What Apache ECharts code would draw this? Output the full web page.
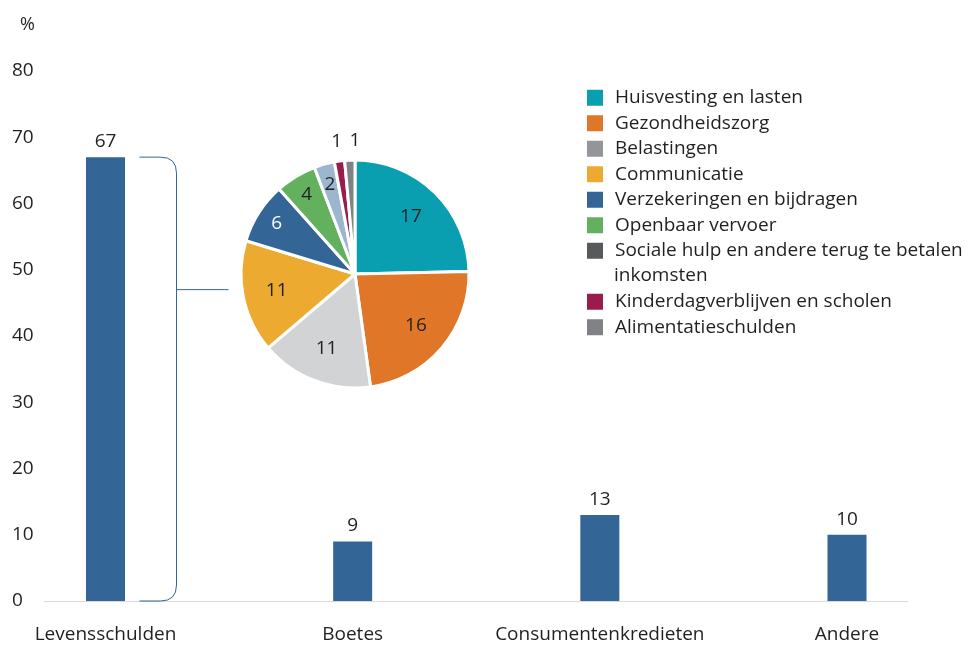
<!DOCTYPE html>
<html>
<head>
<meta charset="utf-8">
<script src="https://cdn.jsdelivr.net/npm/echarts@6/dist/echarts.min.js"></script>
<style>
  html, body { margin: 0; padding: 0; background: #fff; }
  #chart { width: 976px; height: 646px; }
</style>
</head>
<body>
<div id="chart"></div>
<script>
// staafdiagram
const categories = ['Levensschulden', 'Boetes', 'Consumentenkredieten', 'Andere'];
const barValues = [67, 9, 13, 10];

// taart: uitsplitsing levensschulden
const pieNames = [
  'Huisvesting en lasten',
  'Gezondheidszorg',
  'Belastingen',
  'Communicatie',
  'Verzekeringen en bijdragen',
  'Openbaar vervoer',
  'Sociale hulp en andere terug te betalen inkomsten',
  'Kinderdagverblijven en scholen',
  'Alimentatieschulden'
];
const pieValues = [17, 16, 11, 11, 6, 4, 2, 1, 1];

const yMin = 0, yMax = 80, yStep = 10;

const FONT = 'Open Sans';
const FS = 19;
const TEXT = '#231f20';
const BAR = '#336596';
const PIE_CENTER = [355, 274];
const PIE_R = 114;
// kleuren in de taart
const pieColors = ['#0a9fb0', '#e07628', '#d1d3d4', '#edaa30', '#336596', '#63b05e', '#9cb6d0', '#9b1b4d', '#808285'];
// kleuren in de legende (wijken af voor twee items)
const legendColors = ['#0a9fb0', '#e07628', '#939598', '#edaa30', '#336596', '#63b05e', '#58595b', '#9b1b4d', '#808285'];

const chart = echarts.init(document.getElementById('chart'));

// accolade van de eerste staaf naar de taart
function renderBracket(params, api) {
  const top = api.coord([api.value(0), api.value(1)]);
  const bottom = api.coord([api.value(0), 0]);
  const mid = api.coord([api.value(0), 47]);
  const x1 = top[0] + 34;
  const xv = top[0] + 71;
  const r = 16;
  const path =
    'M' + x1 + ',' + top[1] +
    ' L' + (xv - r) + ',' + top[1] +
    ' Q' + xv + ',' + top[1] + ' ' + xv + ',' + (top[1] + r) +
    ' L' + xv + ',' + (bottom[1] - r) +
    ' Q' + xv + ',' + bottom[1] + ' ' + (xv - r) + ',' + bottom[1] +
    ' L' + x1 + ',' + bottom[1] +
    ' M' + xv + ',' + mid[1] + ' L' + (xv + 52) + ',' + mid[1];
  return {
    type: 'path',
    shape: { pathData: path },
    style: { fill: 'none', stroke: BAR, lineWidth: 1 }
  };
}

const pieData = pieNames.map((n, i) => ({
  name: n,
  value: pieValues[i],
  itemStyle: { color: pieColors[i] }
}));

// onzichtbare taart die alleen de labels draagt; de straal bepaalt waar het label staat
function labelPie(radius, keep) {
  return {
    type: 'pie',
    center: PIE_CENTER,
    radius: radius,
    startAngle: 90,
    clockwise: true,
    silent: true,
    avoidLabelOverlap: false,
    legendHoverLink: false,
    itemStyle: { color: 'transparent' },
    emphasis: { disabled: true },
    labelLine: { show: false },
    data: pieNames.map((n, i) => ({
      name: n,
      value: pieValues[i],
      label: {
        show: keep(pieValues[i]),
        position: 'inside',
        formatter: '{c}',
        fontFamily: FONT,
        fontSize: FS,
        color: i === 4 ? '#fff' : TEXT,
        // laatste label iets naar rechts, zoals in het origineel
        offset: i === pieNames.length - 1 ? [6, 0] : [0, 0]
      }
    }))
  };
}

const legendText = { fontFamily: FONT, fontSize: FS, lineHeight: 25.5, color: TEXT, padding: [0, 0, 0, 6] };
const legendBase = {
  orient: 'vertical',
  left: 585,
  padding: 0,
  icon: 'rect',
  itemWidth: 18,
  itemHeight: 18,
  itemGap: 0,
  selectedMode: false,
  textStyle: legendText
};
const legendItems = pieNames.map((n, i) => ({ name: n, itemStyle: { color: legendColors[i] } }));

chart.setOption({
  animation: false,
  title: {
    text: '%',
    left: 15,
    top: 11,
    textStyle: { fontFamily: FONT, fontSize: 18, fontWeight: 'normal', color: TEXT }
  },
  grid: [
    { left: 105.5, right: 129, top: 71, bottom: 45 },
    { left: 44, right: 68, top: 71, bottom: 45 }
  ],
  xAxis: [
    {
      type: 'category',
      gridIndex: 0,
      data: categories,
      boundaryGap: false,
      axisLine: { show: false },
      axisTick: { show: false },
      axisLabel: { interval: 0, margin: 24, fontFamily: FONT, fontSize: FS, color: TEXT }
    },
    {
      type: 'value',
      gridIndex: 1,
      min: 0,
      max: 1,
      axisLine: { show: true, lineStyle: { color: '#d9d9d9', width: 1 } },
      axisTick: { show: false },
      axisLabel: { show: false },
      splitLine: { show: false }
    }
  ],
  yAxis: [
    {
      type: 'value',
      gridIndex: 0,
      min: yMin,
      max: yMax,
      interval: yStep,
      show: false
    },
    {
      type: 'value',
      gridIndex: 1,
      min: yMin,
      max: yMax,
      interval: yStep,
      axisLine: { show: false },
      axisTick: { show: false },
      splitLine: { show: false },
      axisLabel: { align: 'left', margin: 32, fontFamily: FONT, fontSize: FS, color: TEXT }
    }
  ],
  legend: [
    Object.assign({}, legendBase, {
      top: 85,
      data: legendItems.slice(0, 7),
      formatter: name => name.replace(' inkomsten', '')
    }),
    Object.assign({}, legendBase, {
      top: 85 + 8 * 25.5,
      data: legendItems.slice(7)
    })
  ],
  graphic: [
    {
      type: 'text',
      left: 614,
      top: 85 + 7 * 25.5 + 3,
      style: { text: 'inkomsten', fontFamily: FONT, fontSize: FS, fill: TEXT }
    }
  ],
  series: [
    {
      type: 'bar',
      xAxisIndex: 0,
      yAxisIndex: 0,
      data: barValues,
      barWidth: 39,
      itemStyle: { color: BAR },
      label: { show: true, position: 'top', distance: 6, fontFamily: FONT, fontSize: FS, color: TEXT }
    },
    {
      type: 'custom',
      xAxisIndex: 0,
      yAxisIndex: 0,
      clip: false,
      silent: true,
      renderItem: renderBracket,
      data: [[0, barValues[0]]]
    },
    {
      type: 'pie',
      center: PIE_CENTER,
      radius: [0, PIE_R],
      startAngle: 90,
      clockwise: true,
      silent: true,
      data: pieData,
      itemStyle: { borderColor: '#fff', borderWidth: 3 },
      label: { show: false },
      labelLine: { show: false }
    },
    labelPie([40, PIE_R], v => v >= 11),
    labelPie([66, PIE_R], v => v > 1 && v < 11),
    labelPie([PIE_R, PIE_R + 34], v => v <= 1)
  ]
});
</script>
</body>
</html>
